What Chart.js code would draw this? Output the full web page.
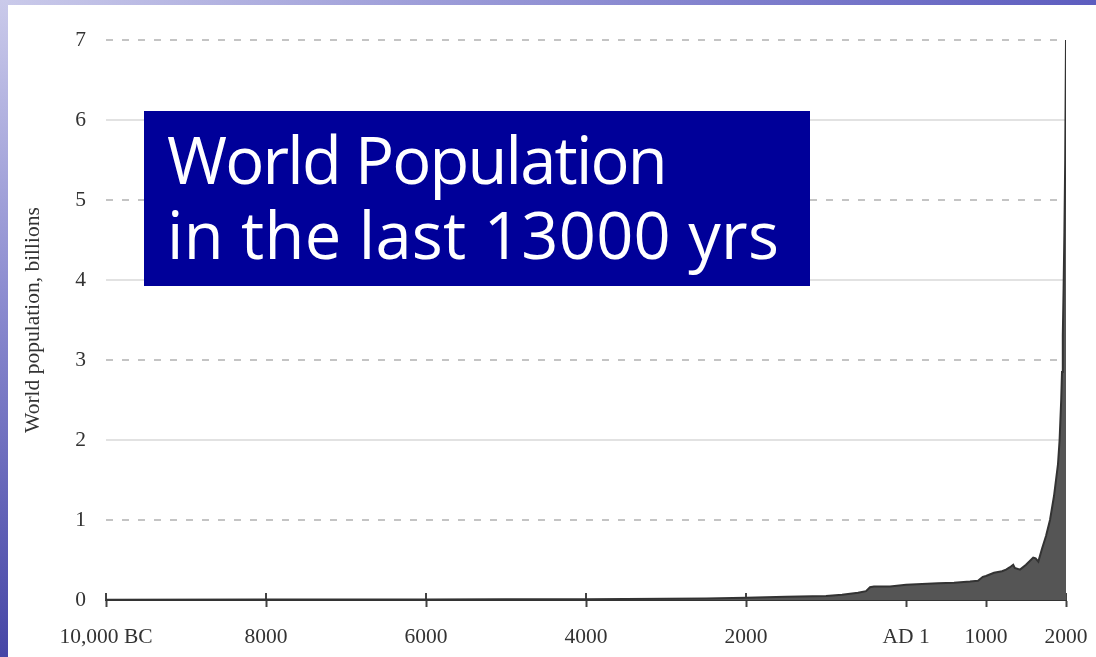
<!DOCTYPE html>
<html>
<head>
<meta charset="utf-8">
<title>World Population</title>
<script src="https://cdn.jsdelivr.net/npm/chart.js@4/dist/chart.umd.min.js"></script>
<style>
  html, body { margin: 0; padding: 0; width: 1096px; height: 657px; overflow: hidden; background: #ffffff; }
  #topband { position: absolute; left: 0; top: 0; width: 1096px; height: 5px;
    background: linear-gradient(to right, #cacaea, #9c9cd8 40%, #5d5dbf); }
  #leftband { position: absolute; left: 0; top: 0; width: 8px; height: 657px;
    background: linear-gradient(to bottom, #cacaea, #8c8cd0 45%, #4646a6); }
  #wrap { position: absolute; left: 0; top: 0; width: 1096px; height: 657px; }
  #banner { position: absolute; left: 144px; top: 111px; width: 666px; height: 175px;
    background: #000099; color: #ffffff; font-family: "Open Sans", sans-serif; font-size: 65px; line-height: 1; }
  #banner div { position: absolute; left: 23px; white-space: nowrap; }
</style>
</head>
<body>
<div id="topband"></div>
<div id="leftband"></div>
<div id="wrap"><canvas id="chart" width="1096" height="657"></canvas></div>
<div id="banner">
  <div style="top:16px; letter-spacing:-1.8px">World Population</div>
  <div style="top:91px; letter-spacing:0.3px">in the last 13000 yrs</div>
</div>
<script>
// Year (negative = BC) and world population in billions
const years = [-10000, -8000, -6000, -5000, -4000, -3000, -2500, -2000, -1500, -1000,
  -800, -600, -500, -450, -400, -200, 1, 200, 400, 600, 800, 900, 960, 1000, 1100,
  1200, 1250, 1300, 1340, 1360, 1425, 1500, 1590, 1620, 1654, 1700, 1750, 1800,
  1850, 1900, 1920, 1940, 1950, 1960, 1970, 1980, 1990, 2000];
const population = [0.004, 0.005, 0.006, 0.008, 0.010, 0.016, 0.020, 0.027, 0.040, 0.050,
  0.065, 0.090, 0.110, 0.160, 0.170, 0.170, 0.190, 0.200, 0.210, 0.215, 0.230, 0.240, 0.290, 0.300, 0.340,
  0.360, 0.380, 0.410, 0.440, 0.400, 0.380, 0.440, 0.530, 0.520, 0.480, 0.640, 0.800, 1.000,
  1.300, 1.700, 2.000, 2.500, 2.850, 3.300, 3.900, 4.600, 5.500, 7.000];

// Axis ticks
const tickYears = [-10000, -8000, -6000, -4000, -2000, 1, 1000, 2000];
const tickLabels = ['10,000 BC', '8000', '6000', '4000', '2000', 'AD 1', '1000', '2000'];
const popTicks = [0, 1, 2, 3, 4, 5, 6, 7];

const serif = { family: '"Liberation Serif", "Times New Roman", serif', size: 21.5 };

// Short tick marks that cross the time axis (the part above it sits under the area fill)
const crossTicks = {
  id: 'crossTicks',
  beforeDatasetsDraw(chart) {
    const sx = chart.scales.x;
    const bottom = chart.chartArea.bottom;
    const ctx = chart.ctx;
    ctx.save();
    ctx.strokeStyle = '#444444';
    ctx.lineWidth = 2;
    sx.ticks.forEach(t => {
      const px = Math.round(sx.getPixelForValue(t.value));
      ctx.beginPath();
      ctx.moveTo(px, bottom - 7);
      ctx.lineTo(px, bottom);
      ctx.stroke();
    });
    ctx.restore();
  }
};

new Chart(document.getElementById('chart'), {
  type: 'line',
  data: {
    datasets: [{
      data: years.map((y, i) => ({ x: y, y: population[i] })),
      fill: 'origin',
      backgroundColor: '#555555',
      borderColor: '#333333',
      borderWidth: 2,
      pointRadius: 0,
      tension: 0
    }]
  },
  options: {
    responsive: false,
    animation: false,
    layout: { padding: { top: 40, right: 30, left: 0, bottom: 0 } },
    plugins: { legend: { display: false }, tooltip: { enabled: false } },
    scales: {
      x: {
        type: 'linear',
        min: -10000,
        max: 2000,
        afterBuildTicks: s => { s.ticks = tickYears.map(v => ({ value: v })); },
        afterFit: s => { s.height = 57; s.paddingLeft = 0; s.paddingRight = 0; },
        ticks: {
          autoSkip: false,
          maxRotation: 0,
          padding: 17,
          color: '#333333',
          font: serif,
          callback: (v, i) => tickLabels[i]
        },
        grid: { drawOnChartArea: false, drawTicks: true, tickLength: 7, tickWidth: 2, tickColor: '#444444' },
        border: { display: true, color: '#333333', width: 2 }
      },
      y: {
        min: 0,
        max: 7,
        position: 'left',
        afterBuildTicks: s => { s.ticks = popTicks.map(v => ({ value: v })); },
        afterFit: s => { s.width = 106; },
        ticks: { padding: 20, color: '#333333', font: serif },
        grid: {
          drawTicks: false,
          lineWidth: 2,
          color: c => (c.tick && c.tick.value > 0 && c.tick.value % 2 === 0) ? '#e2e2e2' : 'rgba(0,0,0,0)'
        },
        border: { display: false },
        title: {
          display: true,
          text: 'World population, billions',
          color: '#333333',
          font: serif,
          padding: { top: 20, bottom: 0 }
        }
      },
      y2: {
        min: 0,
        max: 7,
        position: 'left',
        afterBuildTicks: s => { s.ticks = popTicks.map(v => ({ value: v })); },
        afterFit: s => { s.width = 0; },
        ticks: { display: false },
        grid: {
          drawTicks: false,
          lineWidth: 2,
          color: c => (c.tick && c.tick.value % 2 === 1) ? '#c4c4c4' : 'rgba(0,0,0,0)'
        },
        border: { display: false, dash: [7, 9] }
      }
    }
  },
  plugins: [crossTicks]
});
</script>
</body>
</html>
